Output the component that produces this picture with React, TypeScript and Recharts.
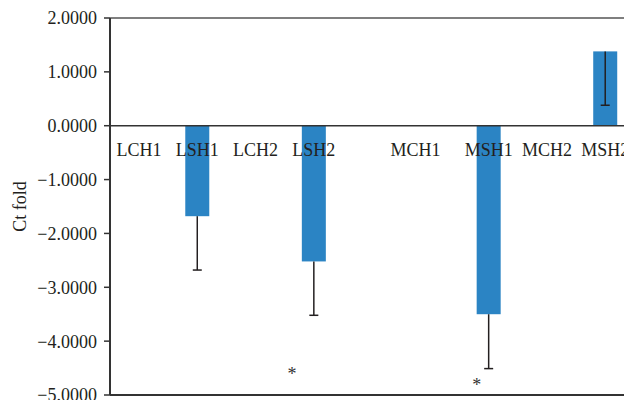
import React from 'react';
import { BarChart, Bar, XAxis, YAxis, ReferenceLine, ReferenceDot } from 'recharts';

const categories = ['LCH1', 'LSH1', 'LCH2', 'LSH2', '', 'MCH1', 'MSH1', 'MCH2', 'MSH2'];
const ctFold = [0, -1.68, 0, -2.52, null, 0, -3.5, 0, 1.38];
const ctError = [0, 1.0, 0, 1.0, null, 0, 1.01, 0, 1.0];
const yTicks = [2, 1, 0, -1, -2, -3, -4, -5];
const asteriskCats = ['LSH2', 'MSH1'];
const asteriskValues = [-4.56, -4.76];

const data = categories.map((c, i) => ({ category: c, value: ctFold[i], err: ctError[i] }));

const FONT = '"Liberation Serif", "Times New Roman", serif';
const TEXT = '#231f20';
const BLUE = '#2b84c4';
const labelShift: Record<string, number> = { MCH1: -15 };
const asteriskShift: Record<string, number> = { LSH2: -22, MSH1: -12 };

const fmt = (v: number) => (v < 0 ? '\u2212' : '') + Math.abs(v).toFixed(4);

function BarWithError(props: any) {
  const { x, y, width, height, payload } = props;
  const v = payload.value;
  const e = payload.err || 0;
  if (v == null) return null;
  const a = Math.min(y, y + height);
  const b = Math.max(y, y + height);
  const h = b - a;
  const base = v < 0 ? a : v > 0 ? b : y;
  const end = v < 0 ? b : v > 0 ? a : y;
  const cx = x + width / 2;
  const pxPerUnit = v !== 0 ? h / Math.abs(v) : 0;
  const errEnd = end + e * pxPerUnit;
  return (
    <g>
      {h > 0 && <rect x={x} y={a} width={width} height={h} fill={BLUE} />}
      {h > 0 && e > 0 && (
        <g stroke={TEXT} strokeWidth={1.5}>
          <line x1={cx} x2={cx} y1={end} y2={errEnd} />
          <line x1={cx - 4.5} x2={cx + 4.5} y1={errEnd} y2={errEnd} />
        </g>
      )}
      <text
        x={cx + (labelShift[payload.category] || 0)}
        y={base + 30}
        textAnchor="middle"
        fill={TEXT}
        fontFamily={FONT}
        fontSize={18}
      >
        {payload.category}
      </text>
    </g>
  );
}

function Asterisk(props: any) {
  const { cx, cy, cat } = props;
  return (
    <text x={cx + (asteriskShift[cat] || 0)} y={cy + 9} textAnchor="middle" fill="#333" fontFamily={FONT} fontSize={18}>
      *
    </text>
  );
}

export default function App() {
  return (
    <div style={{ position: 'absolute', left: 0, top: 0, width: 624, height: 400, overflow: 'hidden', background: '#fff' }}>
      <BarChart width={640} height={400} data={data} margin={{ top: 18, right: 5.5, bottom: 5, left: 0 }} barSize={24}>
        <XAxis dataKey="category" hide />
        <YAxis
          width={110}
          domain={[-5, 2]}
          ticks={yTicks}
          interval={0}
          tickFormatter={fmt}
          tickSize={6}
          tickMargin={7}
          axisLine={{ stroke: '#333', strokeWidth: 2 }}
          tickLine={{ stroke: '#333', strokeWidth: 1.5 }}
          tick={{ fill: TEXT, fontFamily: FONT, fontSize: 18 }}
          label={{
            value: 'Ct fold',
            angle: -90,
            position: 'insideLeft',
            offset: 20,
            style: { textAnchor: 'middle', fill: TEXT, fontFamily: FONT, fontSize: 18 },
          }}
        />
        <ReferenceLine y={2} stroke="#555" strokeWidth={1.5} />
        <ReferenceLine y={-5} stroke="#333" strokeWidth={2} />
        <ReferenceLine y={0} stroke="#333" strokeWidth={1.5} />
        <Bar dataKey="value" isAnimationActive={false} shape={(p: any) => <BarWithError {...p} />} />
        {asteriskCats.map((c, i) => (
          <ReferenceDot
            key={c}
            x={c}
            y={asteriskValues[i]}
            r={0}
            shape={(p: any) => <Asterisk {...p} cat={c} />}
          />
        ))}
      </BarChart>
    </div>
  );
}
